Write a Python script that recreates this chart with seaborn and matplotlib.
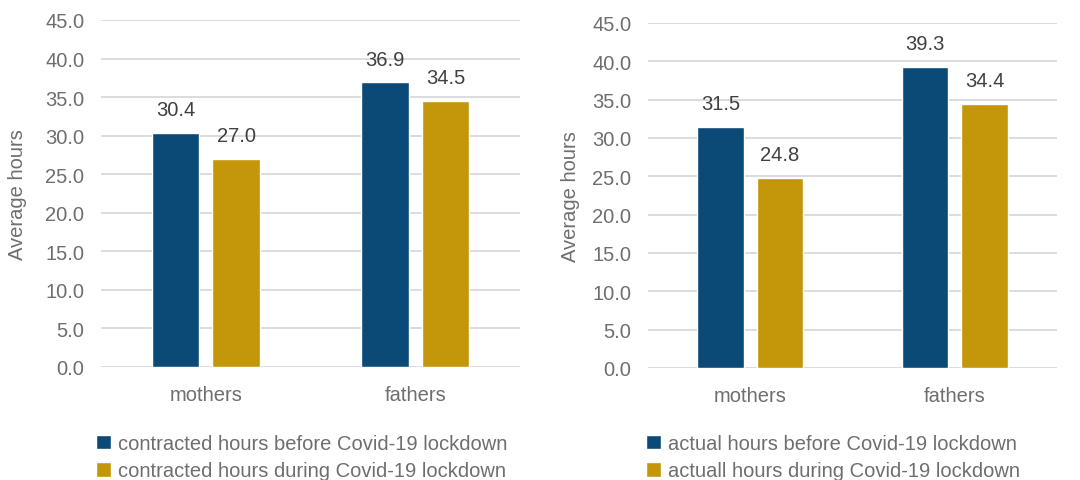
import matplotlib
matplotlib.use("Agg")
import matplotlib.pyplot as plt
from matplotlib.patches import Patch
import pandas as pd
import seaborn as sns

# Data
groups = ["mothers", "fathers"]
contracted_before = [30.4, 36.9]
contracted_during = [27.0, 34.5]
actual_before = [31.5, 39.3]
actual_during = [24.8, 34.4]
contracted_series = ["contracted hours before Covid-19 lockdown",
                     "contracted hours during Covid-19 lockdown"]
actual_series = ["actual hours before Covid-19 lockdown",
                 "actuall hours during Covid-19 lockdown"]
y_ticks = [0, 5, 10, 15, 20, 25, 30, 35, 40, 45]

BLUE = "#0B4A76"
GOLD = "#C4960A"
GRID = "#D9D9D9"
TICK = "#6E6E6E"
VALUE = "#404040"
LEGEND_TXT = "#6E6E6E"

sns.set_theme(style="white")
plt.rcParams["font.family"] = ["Liberation Sans", "DejaVu Sans"]
FS = 14.5


def long_frame(series_names, before, during):
    rows = []
    for g, v in zip(groups, before):
        rows.append({"group": g, "series": series_names[0], "hours": v})
    for g, v in zip(groups, during):
        rows.append({"group": g, "series": series_names[1], "hours": v})
    return pd.DataFrame(rows)


fig = plt.figure(figsize=(10.8, 4.81), dpi=100)
W, H = 1080, 481


def panel(rect_px, df, series_names, label_x, legend_xy):
    left, top, right, bottom = rect_px
    ax = fig.add_axes([left / W, (H - bottom) / H, (right - left) / W, (bottom - top) / H])
    sns.barplot(data=df, x="group", y="hours", hue="series", order=groups,
                hue_order=series_names, palette=[BLUE, GOLD], width=0.58, gap=0.22,
                errorbar=None, ax=ax, legend=False, saturation=1)
    ax.set_ylim(0, 45)
    ax.set_xlim(-0.5, 1.5)
    ax.set_yticks(y_ticks)
    ax.set_yticklabels([f"{t:.1f}" for t in y_ticks])
    ax.yaxis.grid(True, color=GRID, linewidth=1.3)
    ax.set_axisbelow(True)
    for s in ax.spines.values():
        s.set_visible(False)
    ax.tick_params(axis="y", length=0, pad=12, labelsize=FS, labelcolor=TICK)
    ax.tick_params(axis="x", length=0, pad=13, labelsize=FS, labelcolor=TICK)
    ax.set_xlabel("")
    ax.set_ylabel("Average hours", fontsize=FS, color=TICK)
    ax.yaxis.set_label_coords(label_x, 0.5)
    for cont in ax.containers:
        ax.bar_label(cont, fmt="%.1f", padding=10, fontsize=FS, color=VALUE)
    handles = [Patch(facecolor=BLUE), Patch(facecolor=GOLD)]
    leg = fig.legend(handles, series_names, loc="upper left",
                     bbox_to_anchor=(legend_xy[0] / W, (H - legend_xy[1]) / H),
                     frameon=False, fontsize=FS, handlelength=0.75, handleheight=0.75,
                     handletextpad=0.35, labelspacing=0.42, borderpad=0, borderaxespad=0)
    for t in leg.get_texts():
        t.set_color(LEGEND_TXT)
    return ax


panel((101, 21, 520, 368), long_frame(contracted_series, contracted_before, contracted_during),
      contracted_series, -0.177, (96, 435))
panel((648, 24, 1057, 369), long_frame(actual_series, actual_before, actual_during),
      actual_series, -0.166, (646, 435))

fig.savefig("out.png", dpi=100, facecolor="white")
